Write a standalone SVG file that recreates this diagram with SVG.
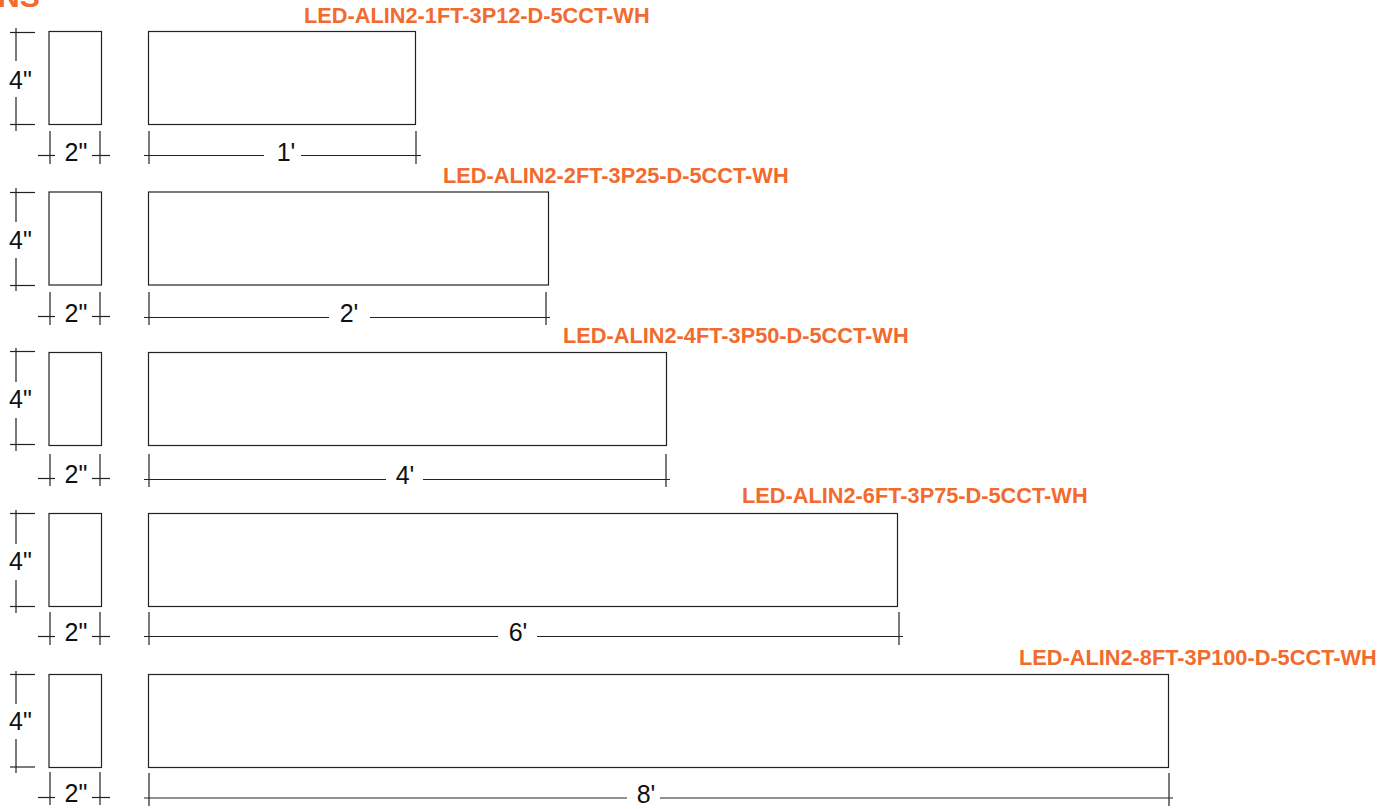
<svg xmlns="http://www.w3.org/2000/svg" width="1390" height="809" viewBox="0 0 1390 809">
<style>
rect{fill:#fff;stroke:#222;stroke-width:1.2}
line{stroke:#222;stroke-width:1.2}
.d{font:25px "Liberation Sans",Arial,sans-serif;fill:#111;text-anchor:middle}
.t{font:bold 21.75px "Liberation Sans",Arial,sans-serif;fill:#f26a2e}
</style>
<rect width="1390" height="809" style="fill:#fff;stroke:none"/>
<text class="t" x="-2" y="7" style="font-size:30px">NS</text>
<g id="row1">
<rect x="49" y="31.5" width="52.5" height="93"/><rect x="148.5" y="31.5" width="267" height="93"/>
<text class="t" x="304" y="23">LED-ALIN2-1FT-3P12-D-5CCT-WH</text>
<text class="d" x="20.5" y="89">4"</text><text class="d" x="76" y="161">2"</text><text class="d" x="286" y="161">1'</text>
</g>
<g id="row2">
<rect x="49" y="192" width="52.5" height="93"/><rect x="148.5" y="192" width="400" height="93"/>
<text class="t" x="443" y="183">LED-ALIN2-2FT-3P25-D-5CCT-WH</text>
<text class="d" x="20.5" y="249">4"</text><text class="d" x="76" y="322">2"</text><text class="d" x="349" y="322">2'</text>
</g>
<g id="row3">
<rect x="49" y="352.5" width="52.5" height="93"/><rect x="148.5" y="352.5" width="518" height="93"/>
<text class="t" x="563" y="343">LED-ALIN2-4FT-3P50-D-5CCT-WH</text>
<text class="d" x="20.5" y="408">4"</text><text class="d" x="76" y="483">2"</text><text class="d" x="405" y="484">4'</text>
</g>
<g id="row4">
<rect x="49" y="513.5" width="52.5" height="93"/><rect x="148.5" y="513.5" width="749" height="93"/>
<text class="t" x="742" y="503">LED-ALIN2-6FT-3P75-D-5CCT-WH</text>
<text class="d" x="20.5" y="570">4"</text><text class="d" x="76" y="641">2"</text><text class="d" x="518" y="641">6'</text>
</g>
<g id="row5">
<rect x="49" y="674.5" width="52.5" height="93"/><rect x="148.5" y="674.5" width="1020" height="93"/>
<text class="t" x="1019" y="665">LED-ALIN2-8FT-3P100-D-5CCT-WH</text>
<text class="d" x="20.5" y="730">4"</text><text class="d" x="76" y="802">2"</text><text class="d" x="646" y="803">8'</text>
</g>
<g id="connectors">
<line x1="10" y1="32.5" x2="35" y2="32.5"/><line x1="10" y1="124.5" x2="35" y2="124.5"/><line x1="16" y1="28" x2="16" y2="61"/><line x1="16" y1="97" x2="16" y2="131"/>
<line x1="50" y1="131" x2="50" y2="164"/><line x1="100" y1="131" x2="100" y2="164"/><line x1="38" y1="155.5" x2="55" y2="155.5"/><line x1="92" y1="155.5" x2="110" y2="155.5"/>
<line x1="149" y1="131" x2="149" y2="164"/><line x1="416" y1="131" x2="416" y2="164"/><line x1="144" y1="155.5" x2="264" y2="155.5"/><line x1="301" y1="155.5" x2="421" y2="155.5"/>

<line x1="10" y1="192.5" x2="35" y2="192.5"/><line x1="10" y1="285.5" x2="35" y2="285.5"/><line x1="16" y1="188" x2="16" y2="222"/><line x1="16" y1="258" x2="16" y2="291"/>
<line x1="50" y1="292" x2="50" y2="325"/><line x1="100" y1="292" x2="100" y2="325"/><line x1="38" y1="316.5" x2="55" y2="316.5"/><line x1="92" y1="316.5" x2="110" y2="316.5"/>
<line x1="149" y1="292" x2="149" y2="325"/><line x1="546" y1="292" x2="546" y2="325"/><line x1="144" y1="317.5" x2="329" y2="317.5"/><line x1="370" y1="317.5" x2="550" y2="317.5"/>

<line x1="10" y1="351.5" x2="35" y2="351.5"/><line x1="10" y1="444.5" x2="35" y2="444.5"/><line x1="16" y1="348" x2="16" y2="382"/><line x1="16" y1="418" x2="16" y2="451"/>
<line x1="50" y1="454" x2="50" y2="486"/><line x1="100" y1="454" x2="100" y2="486"/><line x1="38" y1="478.5" x2="55" y2="478.5"/><line x1="92" y1="478.5" x2="110" y2="478.5"/>
<line x1="149" y1="454" x2="149" y2="487"/><line x1="666" y1="454" x2="666" y2="487"/><line x1="144" y1="479.5" x2="386" y2="479.5"/><line x1="423" y1="479.5" x2="670" y2="479.5"/>

<line x1="10" y1="513.5" x2="35" y2="513.5"/><line x1="10" y1="606.5" x2="35" y2="606.5"/><line x1="16" y1="510" x2="16" y2="544"/><line x1="16" y1="580" x2="16" y2="613"/>
<line x1="50" y1="612" x2="50" y2="645"/><line x1="100" y1="612" x2="100" y2="645"/><line x1="38" y1="636.5" x2="55" y2="636.5"/><line x1="92" y1="636.5" x2="110" y2="636.5"/>
<line x1="149" y1="612" x2="149" y2="645"/><line x1="899" y1="612" x2="899" y2="645"/><line x1="144" y1="636.5" x2="498" y2="636.5"/><line x1="537" y1="636.5" x2="903" y2="636.5"/>

<line x1="10" y1="674.5" x2="35" y2="674.5"/><line x1="10" y1="767" x2="35" y2="767"/><line x1="16" y1="671" x2="16" y2="704"/><line x1="16" y1="739" x2="16" y2="773"/>
<line x1="50" y1="772" x2="50" y2="805"/><line x1="100" y1="772" x2="100" y2="805"/><line x1="38" y1="797.5" x2="55" y2="797.5"/><line x1="92" y1="797.5" x2="110" y2="797.5"/>
<line x1="149" y1="773" x2="149" y2="806"/><line x1="1169" y1="773" x2="1169" y2="806"/><line x1="144" y1="798" x2="627" y2="798"/><line x1="660" y1="798" x2="1173" y2="798"/>
</g>
</svg>
